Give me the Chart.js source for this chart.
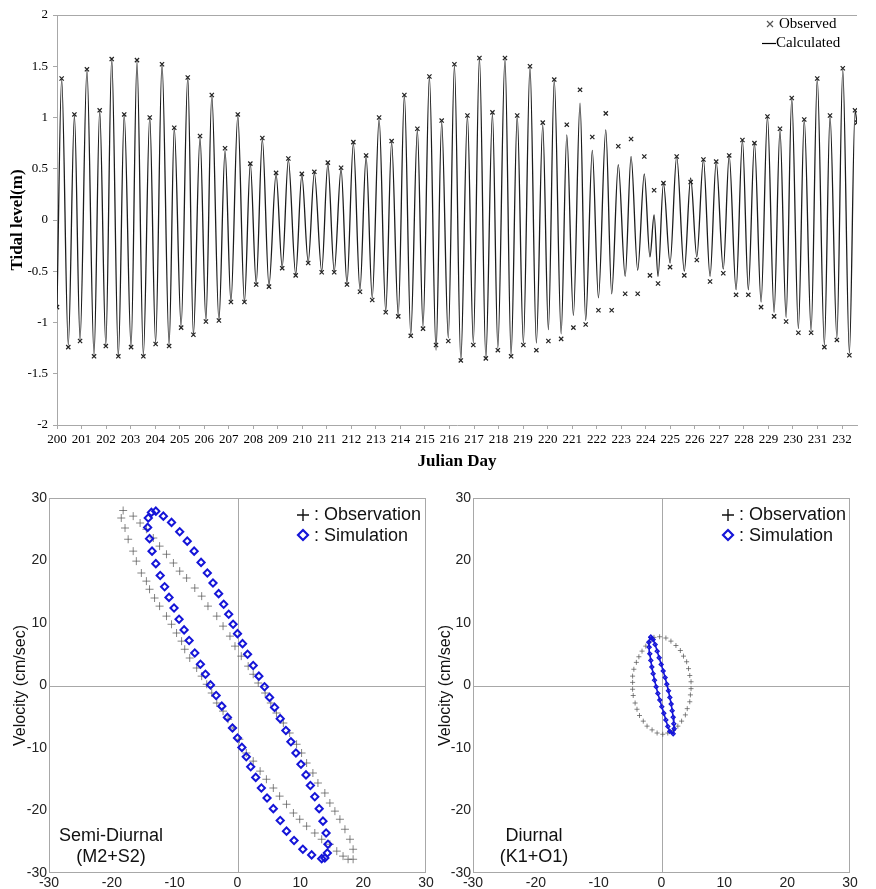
<!DOCTYPE html>
<html>
<head>
<meta charset="utf-8">
<script src="https://cdn.jsdelivr.net/npm/chart.js@4.4.1/dist/chart.umd.min.js"></script>
<style>
  body { margin: 0; background: #fff; }
  #wrap { position: relative; width: 876px; height: 889px; overflow: hidden; }
  canvas { position: absolute; }
</style>
</head>
<body>
<div id="wrap">
  <canvas id="tide" width="876" height="478" style="left:0;top:0;width:876px;height:478px"></canvas>
  <canvas id="semi" width="436" height="409" style="left:0;top:480px;width:436px;height:409px"></canvas>
  <canvas id="diur" width="440" height="409" style="left:436px;top:480px;width:440px;height:409px"></canvas>
</div>
<script>
// tidal level: high / low water times (Julian day)
const tideDay = [
  200.00, 200.19, 200.46, 200.71, 200.94, 201.22, 201.51, 201.74, 201.99, 202.23,
  202.50, 202.74, 203.02, 203.26, 203.52, 203.78, 204.02, 204.28, 204.57, 204.78,
  205.06, 205.33, 205.56, 205.83, 206.07, 206.31, 206.60, 206.85, 207.09, 207.37,
  207.64, 207.88, 208.12, 208.37, 208.64, 208.93, 209.18, 209.43, 209.73, 209.98,
  210.24, 210.49, 210.79, 211.04, 211.30, 211.58, 211.82, 212.08, 212.35, 212.60,
  212.85, 213.13, 213.40, 213.64, 213.91, 214.16, 214.42, 214.69, 214.92, 215.18,
  215.45, 215.68, 215.95, 216.20, 216.46, 216.73, 216.97, 217.22, 217.48, 217.75,
  217.97, 218.26, 218.51, 218.76, 219.01, 219.28, 219.54, 219.80, 220.03, 220.27,
  220.55, 220.78, 221.05, 221.32, 221.55, 221.82, 222.07, 222.37, 222.61, 222.88,
  223.16, 223.40, 223.67, 223.94, 224.17, 224.34, 224.50, 224.72, 224.99, 225.26,
  225.57, 225.83, 226.08, 226.35, 226.62, 226.87, 227.16, 227.40, 227.68, 227.94,
  228.18, 228.43, 228.70, 228.96, 229.23, 229.47, 229.72, 229.95, 230.22, 230.46,
  230.74, 230.99, 231.28, 231.51, 231.79, 232.03, 232.30, 232.53, 232.61
];
const tideCalc = [
  -0.85, 1.38, -1.22, 1.02, -1.17, 1.47, -1.32, 1.07, -1.22, 1.58,
  -1.33, 1.03, -1.24, 1.55, -1.32, 1.01, -1.20, 1.53, -1.22, 0.90,
  -1.04, 1.40, -1.12, 0.81, -0.98, 1.22, -0.98, 0.68, -0.80, 1.02,
  -0.80, 0.55, -0.62, 0.79, -0.64, 0.45, -0.46, 0.59, -0.53, 0.44,
  -0.41, 0.46, -0.50, 0.55, -0.50, 0.50, -0.62, 0.75, -0.68, 0.62,
  -0.76, 0.99, -0.89, 0.76, -0.93, 1.22, -1.12, 0.88, -1.04, 1.40,
  -1.27, 0.96, -1.15, 1.51, -1.37, 1.02, -1.20, 1.59, -1.35, 1.04,
  -1.25, 1.58, -1.32, 1.02, -1.20, 1.50, -1.20, 0.93, -1.07, 1.37,
  -1.11, 0.83, -0.93, 1.14, -0.98, 0.68, -0.76, 0.88, -0.72, 0.54,
  -0.55, 0.62, -0.49, 0.45, -0.36, 0.05, -0.55, 0.36, -0.42, 0.62,
  -0.50, 0.41, -0.36, 0.59, -0.55, 0.57, -0.48, 0.63, -0.68, 0.78,
  -0.68, 0.75, -0.80, 1.01, -0.90, 0.88, -0.95, 1.19, -1.06, 0.98,
  -1.08, 1.38, -1.22, 1.02, -1.15, 1.47, -1.30, 1.06, 0.95
];
const tideObs = [
  -0.85, 1.38, -1.24, 1.03, -1.18, 1.47, -1.33, 1.07, -1.23, 1.57,
  -1.33, 1.03, -1.24, 1.56, -1.33, 1.00, -1.21, 1.52, -1.23, 0.90,
  -1.05, 1.39, -1.12, 0.82, -0.99, 1.22, -0.98, 0.70, -0.80, 1.03,
  -0.80, 0.55, -0.63, 0.80, -0.65, 0.46, -0.47, 0.60, -0.54, 0.45,
  -0.42, 0.47, -0.51, 0.56, -0.51, 0.51, -0.63, 0.76, -0.70, 0.63,
  -0.78, 1.00, -0.90, 0.77, -0.94, 1.22, -1.13, 0.89, -1.06, 1.40,
  -1.22, 0.97, -1.18, 1.52, -1.37, 1.02, -1.22, 1.58, -1.35, 1.05,
  -1.27, 1.58, -1.33, 1.02, -1.22, 1.50, -1.27, 0.95, -1.18, 1.37,
  -1.16, 0.93, -1.05, 1.27, -1.02, 0.81, -0.88, 1.04, -0.88, 0.72,
  -0.72, 0.79, -0.72, 0.62, -0.54, 0.29, -0.62, 0.36, -0.46, 0.62,
  -0.54, 0.37, -0.39, 0.59, -0.60, 0.57, -0.52, 0.63, -0.73, 0.78,
  -0.73, 0.75, -0.85, 1.01, -0.94, 0.89, -0.99, 1.19, -1.10, 0.98,
  -1.10, 1.38, -1.24, 1.02, -1.17, 1.48, -1.32, 1.07, 0.95
];
const dayTicks = { min: 200, max: 232.61, step: 1 };
const levelTicks = { min: -2, max: 2, step: 0.5 };

// tidal current ellipses (u, v in cm/sec)
const semiObsU = [
  -18.2, -16.6, -15.5, -14.5, -13.4, -12.4, -11.3, -10.2, -9.2, -8.1,
  -6.8, -5.7, -4.7, -3.3, -2.3, -1.2, -0.4, 0.6, 1.7, 2.5,
  3.3, 4.4, 5.3, 6.2, 7.3, 8.3, 9.4, 10.2, 11.0, 12.0,
  12.8, 13.9, 14.7, 15.5, 16.3, 17.1, 17.9, 18.4, 18.4,
  17.6, 16.8, 15.8, 14.7, 13.4, 12.3, 11.0, 9.9, 8.9, 7.8,
  6.7, 5.7, 4.6, 3.6, 2.5, 1.4, 0.3, -0.7, -1.5, -2.3,
  -3.3, -4.1, -4.9, -5.7, -6.5, -7.6, -8.4, -8.9, -9.7, -10.5,
  -11.3, -12.4, -13.2, -14.0, -14.5, -15.3, -16.1, -16.6, -17.4, -17.9, -18.5
];
const semiObsV = [
  28.0, 27.1, 26.0, 25.0, 23.6, 22.3, 21.0, 19.6, 18.3, 17.2,
  15.6, 14.3, 12.7, 11.1, 9.5, 7.9, 6.3, 4.7, 3.1, 1.8,
  0.4, -1.2, -2.8, -4.4, -6.0, -7.6, -9.4, -10.8, -12.4, -14.0,
  -15.6, -17.2, -18.8, -20.1, -21.4, -23.0, -24.6, -26.2, -27.8,
  -27.8, -27.3, -26.5, -25.4, -24.6, -23.6, -22.5, -21.4, -20.4, -19.0,
  -17.7, -16.4, -15.0, -13.7, -12.1, -10.8, -8.6, -6.8, -5.4, -4.1,
  -2.8, -1.2, 0.2, 1.5, 2.8, 4.4, 5.8, 7.1, 8.4, 9.8,
  11.1, 12.7, 14.0, 15.4, 16.7, 18.0, 19.9, 21.5, 23.4, 25.2, 26.8
];
const semiSimU = [
  -13.0, -11.8, -10.5, -9.2, -8.0, -6.9, -5.8, -4.8, -3.9, -3.0,
  -2.2, -1.4, -0.7, 0.0, 0.8, 1.6, 2.5, 3.4, 4.3, 5.1,
  5.9, 6.8, 7.7, 8.5, 9.3, 10.1, 10.9, 11.6, 12.3, 13.0,
  13.6, 14.1, 14.4, 14.3, 13.9,
  13.4, 11.8, 10.4, 9.0, 7.8, 6.8, 5.7, 4.7, 3.8, 2.9,
  2.1, 1.4, 0.7, 0.0, -0.8, -1.6, -2.5, -3.4, -4.3, -5.1,
  -5.9, -6.8, -7.7, -8.5, -9.3, -10.1, -10.9, -11.6, -12.3, -13.0,
  -13.6, -14.0, -14.3, -14.2, -13.7
];
const semiSimV = [
  27.9, 27.1, 26.1, 24.6, 23.1, 21.5, 19.7, 18.0, 16.4, 14.7,
  13.0, 11.4, 9.8, 8.3, 6.7, 5.0, 3.2, 1.5, -0.2, -1.9,
  -3.5, -5.3, -7.2, -9.0, -10.8, -12.6, -14.3, -16.0, -17.8, -19.7,
  -21.7, -23.6, -25.4, -26.8, -27.6,
  -27.7, -27.1, -26.2, -24.8, -23.3, -21.6, -19.7, -18.0, -16.4, -14.7,
  -13.0, -11.4, -9.9, -8.4, -6.8, -5.1, -3.3, -1.6, 0.1, 1.8,
  3.4, 5.2, 7.2, 8.9, 10.6, 12.4, 14.1, 15.8, 17.6, 19.5,
  21.5, 23.5, 25.3, 26.8, 27.7
];
const diurObsU = [
  -1.2, -0.3, 0.7, 1.5, 2.3, 3.0, 3.5, 4.0, 4.3, 4.5,
  4.7, 4.7, 4.6, 4.5, 4.1, 3.8, 3.2, 2.6, 1.9, 1.0,
  0.2, -0.7, -1.5, -2.3, -2.9, -3.5, -3.9, -4.2, -4.5, -4.6,
  -4.6, -4.6, -4.4, -4.0, -3.6, -3.1, -2.5, -1.9
];
const diurObsV = [
  7.7, 7.8, 7.6, 7.1, 6.4, 5.6, 4.7, 3.8, 2.7, 1.6,
  0.6, -0.5, -1.5, -2.6, -3.7, -4.7, -5.7, -6.5, -7.2, -7.6,
  -7.8, -7.6, -7.1, -6.5, -5.7, -4.8, -3.8, -2.8, -1.6, -0.6,
  0.5, 1.5, 2.6, 3.7, 4.6, 5.5, 6.3, 7.0
];
const diurSimU = [
  -1.70, -1.33, -1.01, -0.69, -0.37, -0.05, 0.27, 0.58, 0.85, 1.11,
  1.33, 1.54, 1.70, 1.86, 1.96, 2.02, 1.86,
  1.33, 1.01, 0.69, 0.37, 0.05, -0.27, -0.58, -0.85, -1.11,
  -1.33, -1.54, -1.70, -1.86, -1.96, -2.02, -1.70
];
const diurSimV = [
  7.72, 7.35, 6.55, 5.50, 4.44, 3.38, 2.33, 1.27, 0.21, -0.85,
  -1.90, -2.96, -4.02, -5.07, -6.13, -6.92, -7.72,
  -7.35, -6.55, -5.50, -4.44, -3.38, -2.33, -1.27, -0.21, 0.85,
  1.90, 2.96, 4.02, 5.07, 6.13, 6.92, 7.72
];
const velTicks = { min: -30, max: 30, step: 10 };

function pairs(xs, ys) {
  return xs.map((x, i) => ({ x: x, y: ys[i] }));
}

const serif = '"Liberation Serif", "Times New Roman", serif';
const sans = '"Liberation Sans", Arial, sans-serif';

// ---------- top: tidal level ----------
const tideText = {
  id: 'tideText',
  afterDraw(chart) {
    const c = chart.ctx;
    const a = chart.chartArea;
    c.save();
    c.strokeStyle = '#a8a8a8';
    c.lineWidth = 1;
    c.beginPath();
    c.moveTo(a.left, a.top + 0.5);
    c.lineTo(a.right, a.top + 0.5);
    c.stroke();

    c.fillStyle = '#000';
    c.font = 'bold 17px ' + serif;
    c.textAlign = 'center';
    c.textBaseline = 'middle';
    c.fillText('Julian Day', (a.left + a.right) / 2, 462);
    c.save();
    c.translate(18, (a.top + a.bottom) / 2);
    c.rotate(-Math.PI / 2);
    c.fillText('Tidal level(m)', 0, 0);
    c.restore();

    // legend
    c.font = '15px ' + serif;
    c.textAlign = 'left';
    c.strokeStyle = '#555';
    c.lineWidth = 1.2;
    c.beginPath();
    c.moveTo(767, 21); c.lineTo(773, 27);
    c.moveTo(773, 21); c.lineTo(767, 27);
    c.stroke();
    c.fillText('Observed', 779, 24);
    c.strokeStyle = '#000';
    c.beginPath();
    c.moveTo(762, 43.5); c.lineTo(776, 43.5);
    c.stroke();
    c.fillText('Calculated', 776, 43);
    c.restore();
  }
};

new Chart(document.getElementById('tide'), {
  type: 'scatter',
  data: {
    datasets: [
      {
        label: 'Observed',
        data: pairs(tideDay, tideObs),
        showLine: false,
        pointStyle: 'crossRot',
        pointRadius: 3,
        pointBorderWidth: 1.2,
        pointBorderColor: '#222',
        pointBackgroundColor: '#222'
      },
      {
        label: 'Calculated',
        data: pairs(tideDay, tideCalc),
        showLine: true,
        borderColor: '#1c1c1c',
        borderWidth: 1.3,
        pointRadius: 0,
        cubicInterpolationMode: 'monotone'
      }
    ]
  },
  options: {
    responsive: false,
    animation: false,
    layout: { padding: { left: 0, right: 19, top: 15, bottom: 0 } },
    plugins: { legend: { display: false }, tooltip: { enabled: false } },
    scales: {
      x: {
        type: 'linear',
        min: dayTicks.min,
        max: dayTicks.max,
        afterFit(scale) { scale.height = 53; },
        ticks: {
          stepSize: dayTicks.step,
          includeBounds: false,
          autoSkip: false,
          maxRotation: 0,
          padding: 3,
          color: '#000',
          font: { family: serif, size: 13 },
          callback: (v) => String(v)
        },
        grid: { drawOnChartArea: false, tickLength: 4, color: '#a8a8a8' },
        border: { color: '#a8a8a8' }
      },
      y: {
        min: levelTicks.min,
        max: levelTicks.max,
        afterFit(scale) { scale.width = 57; },
        ticks: {
          stepSize: levelTicks.step,
          padding: 5,
          color: '#000',
          font: { family: serif, size: 13 },
          callback: (v) => String(Number(v.toFixed(2)))
        },
        grid: { drawOnChartArea: false, tickLength: 4, color: '#a8a8a8' },
        border: { color: '#a8a8a8' }
      }
    }
  },
  plugins: [tideText]
});

// ---------- bottom: current ellipses ----------
function ellipseChart(id, opts) {
  const frame = {
    id: 'frame' + id,
    beforeDatasetsDraw(chart) {
      const c = chart.ctx;
      const a = chart.chartArea;
      const x0 = Math.round(chart.scales.x.getPixelForValue(0)) + 0.5;
      const y0 = Math.round(chart.scales.y.getPixelForValue(0)) + 0.5;
      c.save();
      c.strokeStyle = '#a8a8a8';
      c.lineWidth = 1;
      c.strokeRect(a.left + 0.5, a.top + 0.5, a.right - a.left - 1, a.bottom - a.top - 1);
      c.beginPath();
      c.moveTo(a.left, y0); c.lineTo(a.right, y0);
      c.moveTo(x0, a.top); c.lineTo(x0, a.bottom);
      c.stroke();
      c.restore();
    },
    afterDraw(chart) {
      const c = chart.ctx;
      const a = chart.chartArea;
      c.save();
      c.fillStyle = '#111';
      c.font = '16px ' + sans;
      c.textAlign = 'center';
      c.textBaseline = 'middle';
      c.save();
      c.translate(opts.titleX, (a.top + a.bottom) / 2);
      c.rotate(-Math.PI / 2);
      c.fillText('Velocity (cm/sec)', 0, 0);
      c.restore();

      c.font = '18px ' + sans;
      c.fillText(opts.name[0], opts.nameX, 356);
      c.fillText(opts.name[1], opts.nameX, 377);

      // legend
      const lx = opts.legendX;
      c.strokeStyle = '#111';
      c.lineWidth = 1.4;
      c.beginPath();
      c.moveTo(lx - 6, 35); c.lineTo(lx + 6, 35);
      c.moveTo(lx, 29); c.lineTo(lx, 41);
      c.stroke();
      c.strokeStyle = '#1515d8';
      c.lineWidth = 2.2;
      c.beginPath();
      c.moveTo(lx, 50); c.lineTo(lx + 5, 55); c.lineTo(lx, 60); c.lineTo(lx - 5, 55);
      c.closePath();
      c.stroke();
      c.textAlign = 'left';
      c.font = '18px ' + sans;
      c.fillText(': Observation', lx + 11, 35);
      c.fillText(': Simulation', lx + 11, 56);
      c.restore();
    }
  };

  const axis = (fit, pad) => ({
    min: velTicks.min,
    max: velTicks.max,
    afterFit: fit,
    ticks: {
      stepSize: velTicks.step,
      padding: pad,
      maxRotation: 0,
      autoSkip: false,
      color: '#222',
      font: { family: sans, size: 14 }
    },
    grid: { display: false, drawTicks: false, tickLength: 0 },
    border: { display: false }
  });

  return new Chart(document.getElementById(id), {
    type: 'scatter',
    data: {
      datasets: [
        Object.assign({
          label: 'Simulation',
          data: pairs(opts.simU, opts.simV),
          pointStyle: 'rectRot',
          pointBorderColor: '#1515d8',
          pointBackgroundColor: 'rgba(255,255,255,0)',
          borderColor: '#1515d8'
        }, opts.simStyle),
        Object.assign({
          label: 'Observation',
          data: pairs(opts.obsU, opts.obsV),
          pointStyle: 'cross',
          pointBorderColor: 'rgba(80,80,80,0.7)',
          pointBorderWidth: 1
        }, opts.obsStyle)
      ]
    },
    options: {
      responsive: false,
      animation: false,
      layout: { padding: { left: 0, right: opts.padRight, top: 18, bottom: 0 } },
      plugins: { legend: { display: false }, tooltip: { enabled: false } },
      scales: {
        x: axis((s) => { s.height = 16; }, 2),
        y: axis((s) => { s.width = opts.yWidth; }, 2)
      }
    },
    plugins: [frame]
  });
}

ellipseChart('semi', {
  obsU: semiObsU, obsV: semiObsV, simU: semiSimU, simV: semiSimV,
  simStyle: { pointRadius: 3.6, pointBorderWidth: 2, showLine: false },
  obsStyle: { pointRadius: 4 },
  name: ['Semi-Diurnal', '(M2+S2)'],
  nameX: 111, titleX: 21, legendX: 303,
  yWidth: 49, padRight: 10
});

ellipseChart('diur', {
  obsU: diurObsU, obsV: diurObsV, simU: diurSimU, simV: diurSimV,
  simStyle: { pointRadius: 2, pointBorderWidth: 1.3, showLine: true, borderWidth: 1.6 },
  obsStyle: { pointRadius: 2.5 },
  name: ['Diurnal', '(K1+O1)'],
  nameX: 98, titleX: 10, legendX: 292,
  yWidth: 37, padRight: 26
});
</script>
</body>
</html>
